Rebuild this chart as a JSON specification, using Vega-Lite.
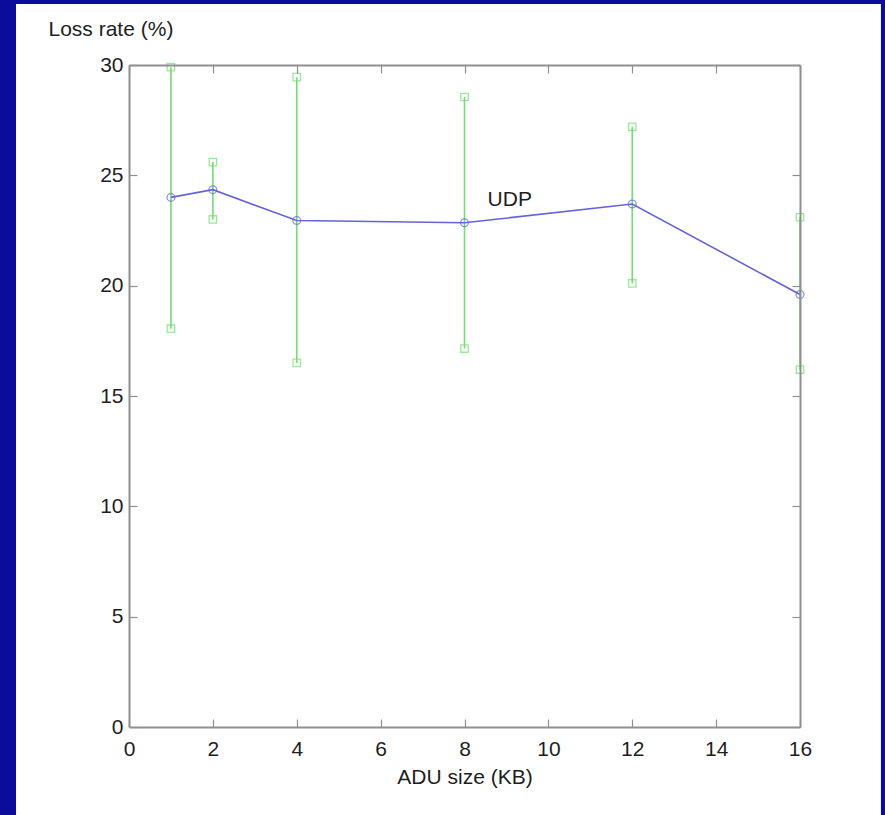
{
  "$schema": "https://vega.github.io/schema/vega-lite/v6.json",
  "width": 671,
  "height": 662,
  "autosize": {"type": "none"},
  "padding": {"left": 129, "top": 65, "right": 85, "bottom": 88},
  "background": "#0b0c9c",
  "config": {
    "view": {"stroke": null},
    "font": "Liberation Sans",
    "axis": {
      "grid": false,
      "labelFlush": false,
      "labelOverlap": false,
      "domainColor": "#8f8f8f",
      "domainWidth": 2,
      "tickColor": "#8f8f8f",
      "tickWidth": 1.2,
      "labelFont": "Liberation Sans",
      "labelFontSize": 21,
      "labelColor": "#1e1e1e",
      "titleFont": "Liberation Sans",
      "titleFontSize": 21,
      "titleFontWeight": "normal",
      "titleColor": "#1e1e1e"
    }
  },
  "datasets": {
    "udp": [
      {"size": 1, "mean": 24.0, "lo": 18.05, "hi": 29.9},
      {"size": 2, "mean": 24.35, "lo": 23.0, "hi": 25.6},
      {"size": 4, "mean": 22.95, "lo": 16.5, "hi": 29.45},
      {"size": 8, "mean": 22.85, "lo": 17.15, "hi": 28.55},
      {"size": 12, "mean": 23.7, "lo": 20.1, "hi": 27.2},
      {"size": 16, "mean": 19.6, "lo": 16.2, "hi": 23.1}
    ],
    "labels": [
      {"x": 8.55, "y": 23.9, "text": "UDP"}
    ]
  },
  "resolve": {"axis": {"x": "independent", "y": "independent"}},
  "layer": [
    {
      "data": {"values": [{}]},
      "mark": {"type": "rect", "fill": "#ffffff", "clip": false},
      "encoding": {
        "x": {"datum": -2.694, "type": "quantitative", "scale": {"domain": [0, 16], "nice": false, "zero": false}, "axis": null},
        "x2": {"datum": 17.93},
        "y": {"datum": 32.76, "type": "quantitative", "scale": {"domain": [0, 30], "nice": false, "zero": false}, "axis": null},
        "y2": {"datum": -4.2}
      }
    },
    {
      "data": {"name": "udp"},
      "mark": {"type": "rule", "color": "#72dd72", "strokeWidth": 1.6},
      "encoding": {
        "x": {
          "field": "size", "type": "quantitative",
          "scale": {"domain": [0, 16], "nice": false, "zero": false},
          "axis": {
            "orient": "bottom", "zindex": 1, "values": [0, 2, 4, 6, 8, 10, 12, 14, 16],
            "ticks": false, "labelPadding": 28, "labelBaseline": "alphabetic", "labelFlush": false,
            "title": "ADU size (KB)", "titleX": 335.5, "titleY": 56, "titleAlign": "center", "titleBaseline": "alphabetic"
          }
        },
        "y": {
          "field": "lo", "type": "quantitative",
          "scale": {"domain": [0, 30], "nice": false, "zero": false},
          "axis": {
            "orient": "left", "zindex": 1, "values": [0, 5, 10, 15, 20, 25, 30],
            "ticks": false, "labelPadding": 6, "labelFlush": false,
            "title": "Loss rate (%)", "titleAngle": 0, "titleX": -81, "titleY": -30, "titleAlign": "left", "titleBaseline": "alphabetic"
          }
        },
        "y2": {"field": "hi"}
      }
    },
    {
      "data": {"name": "udp"},
      "mark": {"type": "point", "shape": "square", "filled": false, "color": "#72dd72", "size": 55, "strokeWidth": 1.3},
      "encoding": {
        "x": {
          "field": "size", "type": "quantitative",
          "scale": {"domain": [0, 16], "nice": false, "zero": false},
          "axis": {"orient": "bottom", "zindex": 1, "values": [0, 2, 4, 6, 8, 10, 12, 14, 16], "labels": false, "domain": false, "tickSize": -8, "title": null}
        },
        "y": {
          "field": "lo", "type": "quantitative",
          "scale": {"domain": [0, 30], "nice": false, "zero": false},
          "axis": {"orient": "left", "zindex": 1, "values": [0, 5, 10, 15, 20, 25, 30], "labels": false, "domain": false, "tickSize": -8, "title": null}
        }
      }
    },
    {
      "data": {"name": "udp"},
      "mark": {"type": "point", "shape": "square", "filled": false, "color": "#72dd72", "size": 55, "strokeWidth": 1.3},
      "encoding": {
        "x": {
          "field": "size", "type": "quantitative",
          "scale": {"domain": [0, 16], "nice": false, "zero": false},
          "axis": {"orient": "top", "zindex": 1, "values": [0, 2, 4, 6, 8, 10, 12, 14, 16], "labels": false, "tickSize": -8, "title": null}
        },
        "y": {
          "field": "hi", "type": "quantitative",
          "scale": {"domain": [0, 30], "nice": false, "zero": false},
          "axis": {"orient": "right", "zindex": 1, "values": [0, 5, 10, 15, 20, 25, 30], "labels": false, "tickSize": -8, "title": null}
        }
      }
    },
    {
      "data": {"name": "udp"},
      "mark": {"type": "line", "color": "#6464d8", "strokeWidth": 1.6},
      "encoding": {
        "x": {"field": "size", "type": "quantitative", "scale": {"domain": [0, 16], "nice": false, "zero": false}, "axis": null},
        "y": {"field": "mean", "type": "quantitative", "scale": {"domain": [0, 30], "nice": false, "zero": false}, "axis": null}
      }
    },
    {
      "data": {"name": "udp"},
      "mark": {"type": "point", "shape": "circle", "filled": false, "color": "#6464d8", "size": 60, "strokeWidth": 1.3},
      "encoding": {
        "x": {"field": "size", "type": "quantitative", "scale": {"domain": [0, 16], "nice": false, "zero": false}, "axis": null},
        "y": {"field": "mean", "type": "quantitative", "scale": {"domain": [0, 30], "nice": false, "zero": false}, "axis": null}
      }
    },
    {
      "data": {"name": "labels"},
      "mark": {"type": "text", "align": "left", "baseline": "middle", "font": "Liberation Sans", "fontSize": 21, "color": "#1e1e1e"},
      "encoding": {
        "x": {"field": "x", "type": "quantitative", "scale": {"domain": [0, 16], "nice": false, "zero": false}, "axis": null},
        "y": {"field": "y", "type": "quantitative", "scale": {"domain": [0, 30], "nice": false, "zero": false}, "axis": null},
        "text": {"field": "text"}
      }
    }
  ]
}
